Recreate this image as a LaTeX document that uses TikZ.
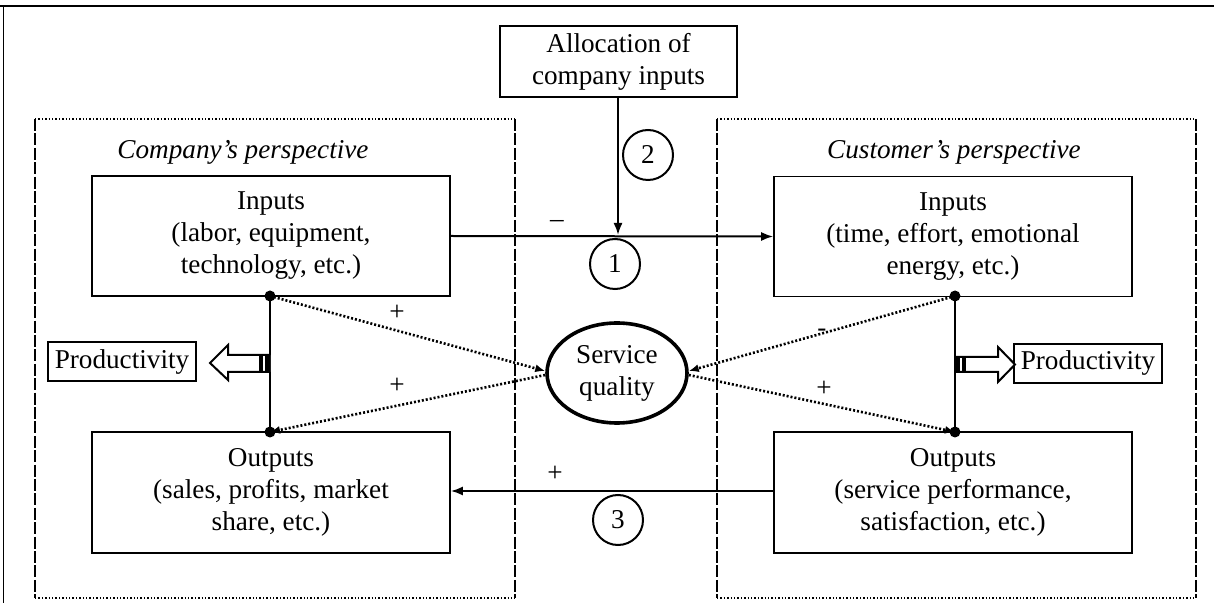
\documentclass[tikz,border=0pt]{standalone}
\usepackage{fontspec}
\setmainfont{Liberation Serif}
\usetikzlibrary{arrows.meta,shapes.geometric}
\begin{document}
\begin{tikzpicture}[x=0.5pt,y=-0.5pt,
  every node/.style={font=\fontsize{13.6}{16}\selectfont},
  box/.style={draw,line width=0.8pt,rectangle,align=center,inner sep=0pt},
  numcirc/.style={draw,circle,line width=1pt,minimum size=25pt,inner sep=0pt},
  arr/.style={line width=1pt,-{Latex[length=6pt,width=4.5pt]}},
  dotarr/.style={line width=1.3pt,dash pattern=on 1pt off 1pt,-{Latex[length=5pt,width=4pt]}},
  contop/.style={line width=0.7pt,densely dotted},
  conside/.style={line width=0.7pt,dash pattern=on 6pt off 1.2pt},
  prodbox/.style={draw,line width=1pt,rectangle,inner sep=0pt,minimum width=74pt,minimum height=19.5pt},
  blockarr/.style={draw,line width=1pt,fill=white},
  dotmark/.style={circle,fill,inner sep=0pt,minimum size=5.5pt},
  sign/.style={inner sep=0pt}]
\useasboundingbox (0,0) rectangle (1214,603);
% frame
\draw[line width=1pt] (0,6) -- (1214,6);
\draw[line width=0.5pt] (3,6) -- (3,603);
% containers
\draw[contop] (35,119) -- (515,119);
\draw[contop] (35,598) -- (515,598);
\draw[conside] (35,119) -- (35,598);
\draw[conside] (515,119) -- (515,598);
\draw[contop] (717,119) -- (1196,119);
\draw[contop] (717,598) -- (1196,598);
\draw[conside] (717,119) -- (717,598);
\draw[conside] (1196,119) -- (1196,598);
\node (tcomp) at (243,152) {\itshape Company’s perspective};
\node (tcust) at (954,152) {\itshape Customer’s perspective};
% boxes
\node[box,minimum width=118.5pt,minimum height=35.5pt] (alloc) at (618.5,61.5) {Allocation of\\company inputs};
\node[box,minimum width=179pt,minimum height=60pt] (cin) at (271,236) {Inputs\\(labor, equipment,\\technology, etc.)};
\node[box,minimum width=179pt,minimum height=60pt] (uin) at (953,236.5) {Inputs\\(time, effort, emotional\\energy, etc.)};
\node[box,minimum width=179pt,minimum height=60.5pt] (cout) at (271,492.5) {Outputs\\(sales, profits, market\\share, etc.)};
\node[box,minimum width=179pt,minimum height=60.5pt] (uout) at (953,492.5) {Outputs\\(service performance,\\satisfaction, etc.)};
\node[draw,ellipse,line width=1.8pt,minimum width=70pt,minimum height=50pt,inner sep=0pt,align=center] (sq) at (617,373) {Service\\quality};
% numbered circles
\node[numcirc] (c1) at (615,264) {1};
\node[numcirc] (c2) at (648,155) {2};
\node[numcirc] (c3) at (618,520) {3};
% arrows 1,2,3
\draw[arr] (cin.east) -- (uin.west);
\coordinate (m1) at (618,235);
\draw[arr] (alloc.south -| m1) -- (m1);
\draw[arr] (uout.west |- 0,491) -- (cout.east |- 0,491);
\node[sign] (s1) at (557,224) {–};
\node[sign] (s3) at (555,474) {+};
% productivity side lines
\coordinate (cinD) at (270,296);
\coordinate (coutD) at (270,432);
\coordinate (uinD) at (955,296);
\coordinate (uoutD) at (955,432);
\draw[line width=1.2pt] (cinD) -- (coutD);
\draw[line width=1.2pt] (uinD) -- (uoutD);
% dotted arrows
\draw[dotarr] (cinD) -- ([yshift=1pt]sq.west);
\draw[dotarr] ([yshift=-1pt]sq.west) -- (coutD);
\draw[dotarr] (uinD) -- ([yshift=1pt]sq.east);
\draw[dotarr] ([yshift=-1pt]sq.east) -- (uoutD);
\node[dotmark] (d1) at (cinD) {};
\node[dotmark] (d2) at (coutD) {};
\node[dotmark] (d3) at (uinD) {};
\node[dotmark] (d4) at (uoutD) {};
\node[sign] (p1) at (397,313) {+};
\node[sign] (p2) at (397,386) {+};
\node[sign] (p3) at (822,333) {-};
\node[sign] (p4) at (824,389) {+};
% productivity boxes
\node[prodbox] (prodL) at (122,361.5) {Productivity};
\node[prodbox] (prodR) at (1088,363.5) {Productivity};
% hollow block arrows
\draw[blockarr] (270,355) -- (228,355) -- (228,345) -- (210,363) -- (228,380) -- (228,372) -- (270,372);
\fill (259,355) rectangle (263,372);
\fill (265,355) rectangle (270,372);
\draw[blockarr] (955,357) -- (998,357) -- (998,347) -- (1015,364.5) -- (998,382) -- (998,372) -- (955,372);
\fill (955,357) rectangle (960,372);
\fill (962,357) rectangle (966,372);
\end{tikzpicture}
\end{document}
